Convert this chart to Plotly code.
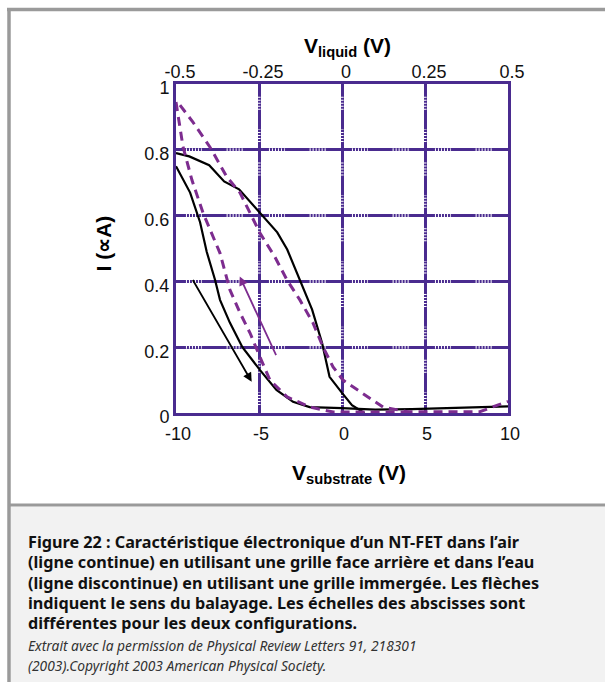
import plotly.graph_objects as go

# ---------------- data ----------------
substrate_ticks = [-10, -5, 0, 5, 10]
liquid_ticks = [-0.5, -0.25, 0, 0.25, 0.5]
liquid_labels = ["-0.5", "-0.25", "0", "0.25", "0.5"]
current_ticks = [0, 0.2, 0.4, 0.6, 0.8, 1]
current_labels = ["0", "0.2", "0.4", "0.6", "0.8", "1"]

# air (solid, back gate) - sweep 1
air_fwd_x = [-10, -9.2, -8.0, -7.1, -6.2, -5.0, -3.9, -3.3, -2.55, -1.8, -1.2, -0.75, 0.0, 0.6, 1.35]
air_fwd_y = [0.79, 0.78, 0.753, 0.704, 0.68, 0.61, 0.549, 0.497, 0.405, 0.314, 0.213, 0.11, 0.061, 0.024, 0.0]
# air (solid) - sweep 2
air_rev_x = [-10, -9.15, -8.55, -8.15, -7.65, -7.35, -6.75, -6.0, -4.95, -3.95, -2.95, -1.95, 0.0, 2.0, 4.2, 7.0, 10.0]
air_rev_y = [0.75, 0.67, 0.58, 0.49, 0.405, 0.344, 0.274, 0.20, 0.131, 0.07, 0.034, 0.018, 0.015, 0.01, 0.012, 0.016, 0.02]

# water (dashed, immersed gate) - outer branch
water_out_x = [-9.76, -8.98, -7.95, -6.93, -6.14, -5.54, -4.94, -4.04, -3.31, -2.53, -1.75, -1.14, -0.54, 0.06, 1.08, 2.47, 3.92, 6.0, 8.31, 9.7, 10.0]
water_out_y = [0.936, 0.884, 0.808, 0.717, 0.669, 0.608, 0.547, 0.474, 0.404, 0.343, 0.274, 0.20, 0.14, 0.10, 0.065, 0.018, 0.004, 0.004, 0.004, 0.03, 0.035]
# water (dashed) - inner branch
water_in_x = [-10.0, -9.58, -9.04, -8.37, -7.35, -6.75, -6.14, -5.54, -4.94, -4.34, -3.31, -1.93, -0.54, 2.0, 4.0]
water_in_y = [0.945, 0.81, 0.708, 0.608, 0.486, 0.374, 0.304, 0.243, 0.17, 0.10, 0.049, 0.018, 0.003, 0.003, 0.003]

# sweep-direction arrows (tail -> head)
air_arrow = {"tail": (-9.04, 0.409), "head": (-5.44, 0.095)}
water_arrow = {"tail": (-3.93, 0.171), "head": (-6.16, 0.415)}

caption_bold = [
    "Figure 22 : Caractéristique électronique d’un NT-FET dans l’air",
    "(ligne continue) en utilisant une grille face arrière et dans l’eau",
    "(ligne discontinue) en utilisant une grille immergée. Les flèches",
    "indiquent le sens du balayage. Les échelles des abscisses sont",
    "différentes pour les deux configurations.",
]
caption_italic = [
    "Extrait avec la permission de Physical Review Letters 91, 218301",
    "(2003).Copyright 2003 American Physical Society.",
]

# ---------------- style ----------------
W, H = 605, 682
L, R, T, B = 176, 508, 84, 413
PURPLE = "#4a2b8f"
DASHP = "#7d2c8f"
FONT = "Liberation Sans, Arial, sans-serif"
CAPFONT = "Noto Sans, DejaVu Sans, sans-serif"
DOT_FRACS = [(0.12, 0.31), (0.61, 0.82)]


def xp(px):
    return (px - L) / (R - L)


def yp(py):
    return (B - py) / (B - T)


fig = go.Figure()

# dotted texture on the grid lines (white breaks drawn over the purple grid)
hx, hy, vx, vy = [], [], [], []
for gy in current_ticks[1:-1]:
    for a, b in zip(substrate_ticks[:-1], substrate_ticks[1:]):
        for f0, f1 in DOT_FRACS:
            hx += [a + (b - a) * f0, a + (b - a) * f1, None]
            hy += [gy, gy, None]
for gx in substrate_ticks[1:-1]:
    for a, b in zip(current_ticks[:-1], current_ticks[1:]):
        for f0, f1 in DOT_FRACS:
            vx += [gx, gx, None]
            vy += [a + (b - a) * f0, a + (b - a) * f1, None]
fig.add_trace(go.Scatter(x=hx, y=hy, mode="lines", line=dict(color="white", width=3.2, dash="1px,2px"),
                         hoverinfo="skip"))
fig.add_trace(go.Scatter(x=vx, y=vy, mode="lines", line=dict(color="white", width=3.2, dash="1px,2px"),
                         hoverinfo="skip"))

fig.add_trace(go.Scatter(x=air_fwd_x, y=air_fwd_y, mode="lines",
                         line=dict(color="black", width=2.2), hoverinfo="skip"))
fig.add_trace(go.Scatter(x=air_rev_x, y=air_rev_y, mode="lines",
                         line=dict(color="black", width=2.2), hoverinfo="skip"))
fig.add_trace(go.Scatter(x=water_out_x, y=water_out_y, mode="lines",
                         line=dict(color=DASHP, width=3, dash="9px,6px"), hoverinfo="skip"))
fig.add_trace(go.Scatter(x=water_in_x, y=water_in_y, mode="lines",
                         line=dict(color=DASHP, width=3, dash="9px,6px"), hoverinfo="skip"))
fig.add_trace(go.Scatter(x=liquid_ticks, y=[None] * len(liquid_ticks), xaxis="x2",
                         mode="lines", hoverinfo="skip"))

for arr, col in ((air_arrow, "black"), (water_arrow, DASHP)):
    fig.add_annotation(x=arr["head"][0], y=arr["head"][1], ax=arr["tail"][0], ay=arr["tail"][1],
                       xref="x", yref="y", axref="x", ayref="y", text="", showarrow=True,
                       arrowhead=2, arrowsize=1, arrowwidth=1.8, arrowcolor=col)

# frame and caption box
shapes = [
    dict(type="rect", xref="paper", yref="paper", x0=xp(11), x1=xp(606), y0=yp(506.5), y1=yp(683),
         fillcolor="#f2f2f2", line=dict(width=0), layer="below"),
    dict(type="line", xref="paper", yref="paper", x0=xp(7), x1=xp(606), y0=yp(9.5), y1=yp(9.5),
         line=dict(color="#9a9a9a", width=3.5)),
    dict(type="line", xref="paper", yref="paper", x0=xp(9), x1=xp(9), y0=yp(8), y1=yp(683),
         line=dict(color="#9a9a9a", width=3.5)),
    dict(type="line", xref="paper", yref="paper", x0=xp(9), x1=xp(606), y0=yp(505), y1=yp(505),
         line=dict(color="#9a9a9a", width=3)),
]
fig.update_layout(shapes=shapes)

# axis titles
fig.add_annotation(x=xp(347), y=yp(32), xref="paper", yref="paper", showarrow=False,
                   text="<b>V<sub>liquid</sub> (V)</b>", font=dict(family=FONT, size=21, color="black"))
fig.add_annotation(x=xp(349), y=yp(489), xref="paper", yref="paper", showarrow=False,
                   text="<b>V<sub>substrate</sub> (V)</b>", font=dict(family=FONT, size=21, color="black"))
fig.add_annotation(x=xp(90), y=yp(244), xref="paper", yref="paper", showarrow=False, textangle=-90,
                   text="<b>I (∝A)</b>", font=dict(family=FONT, size=21, color="black"))

# caption
for i, line in enumerate(caption_bold):
    fig.add_annotation(x=xp(26), y=yp(542 + i * 20.3), xref="paper", yref="paper", showarrow=False,
                       xanchor="left", yanchor="middle", text="<b>" + line + "</b>",
                       font=dict(family=CAPFONT, size=16.2, color="#111"))
for i, line in enumerate(caption_italic):
    fig.add_annotation(x=xp(26), y=yp(645 + i * 20), xref="paper", yref="paper", showarrow=False,
                       xanchor="left", yanchor="middle", text="<i>" + line + "</i>",
                       font=dict(family=CAPFONT, size=13.8, color="#333"))

fig.update_layout(
    width=W, height=H,
    margin=dict(l=L, r=W - R, t=T, b=H - B, pad=0),
    paper_bgcolor="white", plot_bgcolor="white",
    showlegend=False,
    xaxis=dict(range=[-10, 10], tickvals=substrate_ticks, ticktext=[str(v) for v in substrate_ticks],
               showgrid=True, gridcolor=PURPLE, gridwidth=3, zeroline=False,
               showline=True, linecolor=PURPLE, linewidth=3, mirror=True, ticks="",
               ticklabelshift=2, ticklabelstandoff=2,
               tickfont=dict(family=FONT, size=18, color="#111")),
    xaxis2=dict(range=[-0.5, 0.5], overlaying="x", side="top", tickvals=liquid_ticks,
                ticktext=liquid_labels, showgrid=False, zeroline=False, ticks="",
                ticklabelshift=4, ticklabelstandoff=1,
                tickfont=dict(family=FONT, size=18, color="#111")),
    yaxis=dict(range=[0, 1], tickvals=current_ticks, ticktext=current_labels,
               showgrid=True, gridcolor=PURPLE, gridwidth=3, zeroline=False,
               showline=True, linecolor=PURPLE, linewidth=3, mirror=True, ticks="",
               ticklabelshift=4,
               tickfont=dict(family=FONT, size=18, color="#111")),
)

fig.write_html("out.html")
